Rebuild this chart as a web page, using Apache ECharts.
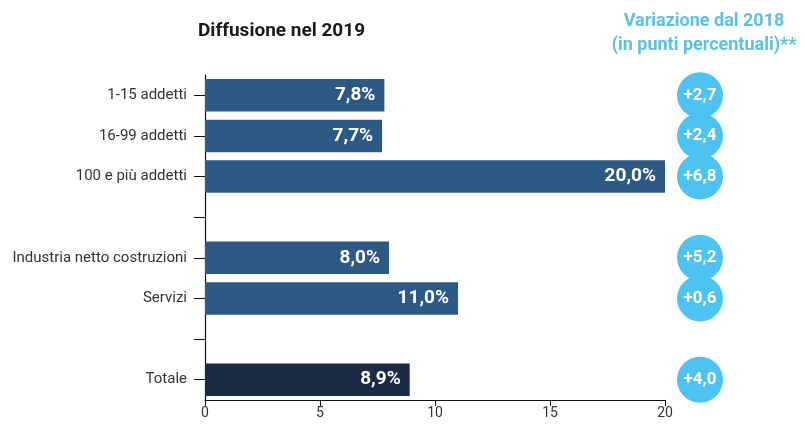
<!DOCTYPE html>
<html><head><meta charset="utf-8">
<script src="https://cdn.jsdelivr.net/npm/echarts@6/dist/echarts.min.js"></script>
<style>html,body{margin:0;padding:0;background:#fff}#c{width:805px;height:427px}</style>
</head><body><div id="c"></div>
<script>
const categories = ['1-15 addetti','16-99 addetti','100 e più addetti','','Industria netto costruzioni','Servizi','','Totale'];
const diffusion2019 = [7.8, 7.7, 20.0, null, 8.0, 11.0, null, 8.9];
const changeFrom2018 = [2.7, 2.4, 6.8, null, 5.2, 0.6, null, 4.0];
const xTicks = [0, 5, 10, 15, 20];

const fmt = v => v.toFixed(1).replace('.', ',');
const chart = echarts.init(document.getElementById('c'));
const FONT = 'Roboto';
chart.setOption({
  animation: false,
  title: [
    {text: 'Diffusione nel 2019', left: 193, top: 17,
     textStyle: {fontFamily: FONT, fontWeight: 'bold', fontSize: 19, color: '#1a1a1a'}},
    {text: 'Variazione dal 2018\n(in punti percentuali)**', left: 699, top: 4, textAlign: 'center',
     textStyle: {fontFamily: FONT, fontWeight: 'bold', fontSize: 18, color: '#5cc0df', lineHeight: 24, align: 'center'}}
  ],
  grid: [
    {left: 205, right: 140, top: 75, bottom: 27},
    {left: 676, right: 81, top: 75, bottom: 27}
  ],
  xAxis: [
    {type: 'value', gridIndex: 0, min: xTicks[0], max: xTicks[xTicks.length-1], interval: 5,
     axisLine: {show: true, lineStyle: {color: '#111', width: 1.2}},
     axisTick: {show: true, length: 6, lineStyle: {color: '#111'}},
     axisLabel: {fontFamily: FONT, fontSize: 14, color: '#333', margin: 6},
     splitLine: {show: false}},
    {type: 'value', gridIndex: 1, min: -1, max: 1, show: false}
  ],
  yAxis: [
    {type: 'category', gridIndex: 0, data: categories, inverse: true,
     axisLine: {show: true, lineStyle: {color: '#111', width: 1.2}},
     axisTick: {show: true, alignWithLabel: true, length: 11, lineStyle: {color: '#111'}},
     axisLabel: {fontFamily: FONT, fontSize: 15, color: '#333', margin: 18}},
    {type: 'category', gridIndex: 1, data: categories, inverse: true, show: false}
  ],
  series: [
    {type: 'bar', xAxisIndex: 0, yAxisIndex: 0, barWidth: '80%',
     data: diffusion2019.map((v, i) => v == null ? '-' : {value: v,
        itemStyle: {color: categories[i] === 'Totale' ? '#1b2a45' : '#2d5985'}}),
     label: {show: true, position: 'insideRight', distance: 9, color: '#fff',
       fontFamily: FONT, fontWeight: 'bold', fontSize: 19,
       formatter: p => fmt(p.value) + '%'}},
    {type: 'scatter', xAxisIndex: 1, yAxisIndex: 1, symbol: 'circle', symbolSize: 46,
     itemStyle: {color: '#4cc3f1', opacity: 1},
     data: changeFrom2018.map((v, i) => v == null ? null : [0, categories[i], v]).filter(d => d),
     encode: {x: 0, y: 1},
     label: {show: true, position: 'inside', color: '#fff', fontFamily: FONT, fontWeight: 'bold', fontSize: 17,
       formatter: p => '+' + fmt(p.value[2])}}
  ]
});
</script></body></html>
